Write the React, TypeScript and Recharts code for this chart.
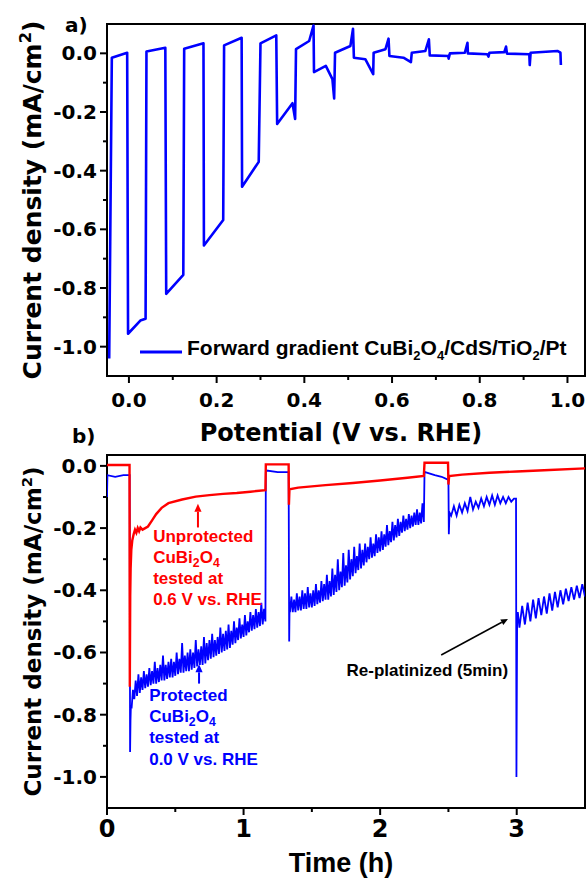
import React from "react"
import {
  Label,
  Legend,
  Line,
  LineChart,
  ReferenceArea,
  ReferenceDot,
  ReferenceLine,
  XAxis,
  YAxis,
} from "recharts"

// ---------- a) chopped forward scan ----------
const scanPotential = [
  -0.045, -0.039, -0.004, -0.002, 0.026, 0.038, 0.04, 0.083, 0.085, 0.124,
  0.126, 0.17, 0.171, 0.215, 0.217, 0.257, 0.258, 0.296, 0.3, 0.336,
  0.338, 0.373, 0.379, 0.381, 0.411, 0.421, 0.422, 0.449, 0.464, 0.468,
  0.47, 0.505, 0.511, 0.513, 0.539, 0.557, 0.558, 0.585, 0.592, 0.594,
  0.626, 0.643, 0.645, 0.676, 0.684, 0.686, 0.728, 0.729, 0.732, 0.766,
  0.772, 0.773, 0.817, 0.82, 0.822, 0.856, 0.86, 0.862, 0.913, 0.914,
  0.916, 0.977, 0.984, 0.985,
]
const scanCurrent = [
  -1.04, -0.015, 0.002, -0.956, -0.911, -0.905, 0.006, 0.019, -0.82, -0.755,
  0.016, 0.034, -0.655, -0.568, 0.027, 0.053, -0.455, -0.37, 0.034, 0.061,
  -0.241, -0.17, -0.224, 0.014, 0.042, 0.095, -0.064, -0.043, -0.088, -0.154,
  0.002, 0.025, 0.084, -0.015, -0.02, -0.071, 0.002, 0.014, 0.05, -0.009,
  -0.015, -0.03, 0.002, 0.008, 0.048, -0.007, -0.009, -0.018, 0.0, 0.002,
  0.036, 0.0, -0.003, -0.011, 0.002, 0.004, 0.023, -0.001, -0.003, -0.04,
  0.002, 0.008, 0.002, -0.04,
]

const potentialTicks = [0, 0.1, 0.2, 0.3, 0.4, 0.5, 0.6, 0.7, 0.8, 0.9, 1.0]
const potentialMajor = [0, 0.2, 0.4, 0.6, 0.8, 1.0]
const currentTicks = [0, -0.1, -0.2, -0.3, -0.4, -0.5, -0.6, -0.7, -0.8, -0.9, -1.0]
const currentMajor = [0, -0.2, -0.4, -0.6, -0.8, -1.0]

// ---------- b) stability test ----------
const timeTicks = [0, 0.5, 1, 1.5, 2, 2.5, 3]
const timeMajor = [0, 1, 2, 3]

// unprotected electrode, 0.6 V vs RHE
const redTime = [
  0, 0.165, 0.167, 0.17, 0.173, 0.178, 0.185, 0.195, 0.205, 0.215,
  0.225, 0.235, 0.245, 0.26, 0.28, 0.3, 0.33, 0.36, 0.4, 0.45,
  0.55, 0.65, 0.75, 0.85, 0.95, 1.05, 1.16, 1.163, 1.33, 1.332,
  1.336, 1.4, 1.6, 1.8, 2.0, 2.2, 2.32, 2.325, 2.497, 2.5,
  2.505, 2.6, 2.8, 3.0, 3.2, 3.5,
]
const redCurrent = [
  0.003, 0.003, -0.71, -0.42, -0.33, -0.27, -0.24, -0.22, -0.205, -0.215,
  -0.2, -0.21, -0.198, -0.205, -0.2, -0.195, -0.175, -0.155, -0.135, -0.12,
  -0.108, -0.099, -0.094, -0.09, -0.087, -0.083, -0.078, 0.005, 0.005, -0.125,
  -0.075, -0.07, -0.062, -0.055, -0.047, -0.038, -0.032, 0.01, 0.01, -0.06,
  -0.033, -0.028, -0.022, -0.018, -0.014, -0.008,
]

// protected electrode, 0.0 V vs RHE (dark periods / transients)
const blueStartTime = [0, 0.003, 0.06, 0.12, 0.166, 0.169, 0.172, 0.175]
const blueStartCurrent = [-0.1, -0.03, -0.035, -0.03, -0.03, -0.92, -0.82, -0.77]
const blueBreak1Time = [1.163, 1.17, 1.25, 1.33, 1.334, 1.337]
const blueBreak1Current = [-0.02, -0.015, -0.02, -0.02, -0.565, -0.44]
const blueBreak2Time = [2.325, 2.33, 2.4, 2.45, 2.5, 2.503, 2.508]
const blueBreak2Current = [-0.018, -0.02, -0.03, -0.035, -0.045, -0.22, -0.15]
const replatTime = [2.995, 2.998, 3.003, 3.008]
const replatCurrent = [-0.105, -1.0, -0.5, -0.47]

// illuminated runs 1 and 2, read every 0.01 h (noise band edges)
const run1Current = [
  -0.78, -0.72, -0.75, -0.69, -0.74, -0.67, -0.73, -0.68, -0.72, -0.66,
  -0.715, -0.67, -0.71, -0.65, -0.705, -0.66, -0.7, -0.63, -0.7, -0.65,
  -0.695, -0.64, -0.69, -0.61, -0.69, -0.64, -0.685, -0.63, -0.68, -0.62,
  -0.68, -0.63, -0.675, -0.6, -0.67, -0.62, -0.665, -0.57, -0.665, -0.61,
  -0.66, -0.6, -0.66, -0.59, -0.655, -0.6, -0.65, -0.56, -0.645, -0.59,
  -0.64, -0.58, -0.64, -0.55, -0.635, -0.57, -0.625, -0.56, -0.62, -0.54,
  -0.615, -0.56, -0.61, -0.55, -0.605, -0.52, -0.6, -0.54, -0.595, -0.53,
  -0.59, -0.51, -0.585, -0.53, -0.575, -0.5, -0.57, -0.52, -0.56, -0.49,
  -0.555, -0.51, -0.55, -0.48, -0.545, -0.5, -0.535, -0.47, -0.53, -0.48,
  -0.525, -0.46, -0.52, -0.47, -0.515, -0.44, -0.51, -0.46, -0.5,
]
const run2Current = [
  -0.47, -0.42, -0.47, -0.43, -0.47, -0.41, -0.465, -0.42, -0.465, -0.4,
  -0.46, -0.41, -0.46, -0.39, -0.455, -0.41, -0.455, -0.4, -0.45, -0.38,
  -0.445, -0.4, -0.44, -0.37, -0.435, -0.38, -0.43, -0.35, -0.43, -0.37,
  -0.42, -0.33, -0.415, -0.35, -0.405, -0.3, -0.4, -0.34, -0.39, -0.28,
  -0.385, -0.32, -0.375, -0.27, -0.365, -0.3, -0.355, -0.26, -0.345, -0.29,
  -0.335, -0.25, -0.33, -0.27, -0.32, -0.25, -0.31, -0.26, -0.3, -0.23,
  -0.295, -0.25, -0.29, -0.22, -0.28, -0.23, -0.275, -0.21, -0.27, -0.22,
  -0.26, -0.19, -0.255, -0.21, -0.245, -0.18, -0.24, -0.19, -0.23, -0.17,
  -0.225, -0.18, -0.215, -0.16, -0.21, -0.17, -0.205, -0.155, -0.2, -0.16,
  -0.195, -0.15, -0.19, -0.14, -0.19, -0.15, -0.185, -0.12, -0.18,
]
// runs 3 and 4, read every 0.02 h (regular comb)
const run3Current = [
  -0.16, -0.13, -0.16, -0.125, -0.15, -0.12, -0.145, -0.1, -0.14, -0.115,
  -0.135, -0.105, -0.13, -0.1, -0.125, -0.095, -0.125, -0.095, -0.12, -0.1,
  -0.12, -0.1, -0.115, -0.105,
]
const run4Current = [
  -0.52, -0.45, -0.51, -0.44, -0.5, -0.43, -0.49, -0.425, -0.48, -0.42,
  -0.475, -0.41, -0.465, -0.405, -0.455, -0.4, -0.445, -0.395, -0.435, -0.39,
  -0.43, -0.385, -0.425, -0.38, -0.42,
]

const unprotectedNote = ["Unprotected", "CuBi_2O_4", "tested at", "0.6 V vs. RHE"]
const protectedNote = ["Protected", "CuBi_2O_4", "tested at", "0.0 V vs. RHE"]
const replatNote = ["Re-platinized (5min)"]

const BLUE = "#0000ff"
const RED = "#ff0000"
const DEJAVU = "'DejaVu Sans', sans-serif"
const ARIAL = "'Liberation Sans', Arial, sans-serif"

type Pt = { x: number; y: number }
const pairs = (xs: number[], ys: number[]): Pt[] => xs.map((x, i) => ({ x, y: ys[i] }))
const sampled = (start: number, step: number, ys: number[]): Pt[] =>
  ys.map((y, i) => ({ x: +(start + i * step).toFixed(4), y }))

const scanData = pairs(scanPotential, scanCurrent)
const redData = pairs(redTime, redCurrent)
const blueData = [
  ...pairs(blueStartTime, blueStartCurrent),
  ...sampled(0.18, 0.01, run1Current),
  ...pairs(blueBreak1Time, blueBreak1Current),
  ...sampled(1.34, 0.01, run2Current),
  ...pairs(blueBreak2Time, blueBreak2Current),
  ...sampled(2.52, 0.02, run3Current),
  ...pairs(replatTime, replatCurrent),
  ...sampled(3.02, 0.02, run4Current),
]

const isMajor = (majors: number[], v: number) => majors.some((m) => Math.abs(m - v) < 1e-6)

const bottomTick =
  (majors: number[], fmt: (v: number) => string, size: number, dy: number) => (p: any) => {
    const { x, y, payload } = p
    const v = payload.value as number
    const major = isMajor(majors, v)
    return (
      <g>
        <line x1={x} x2={x} y1={y} y2={y + (major ? 7 : 4)} stroke="#000" strokeWidth={2} />
        {major && (
          <text x={x} y={y + dy} textAnchor="middle" fontFamily={DEJAVU} fontWeight={700} fontSize={size} fill="#000">
            {fmt(v)}
          </text>
        )}
      </g>
    )
  }

const leftTick = (majors: number[]) => (p: any) => {
  const { x, y, payload } = p
  const v = payload.value as number
  const major = isMajor(majors, v)
  return (
    <g>
      <line x1={x} x2={x - (major ? 7 : 4)} y1={y} y2={y} stroke="#000" strokeWidth={2} />
      {major && (
        <text x={x - 10} y={y + 7} textAnchor="end" fontFamily={DEJAVU} fontWeight={700} fontSize={20} fill="#000">
          {v.toFixed(1)}
        </text>
      )}
    </g>
  )
}

const xTitle = (text: string, font: string, size: number, dy: number) => (p: any) => {
  const vb = p.viewBox
  return (
    <text x={vb.x + vb.width / 2 - 5} y={vb.y + dy} textAnchor="middle" fontFamily={font} fontWeight={700} fontSize={size} fill="#000">
      {text}
    </text>
  )
}

const yTitle = (size: number, baseX: number) => (p: any) => {
  const vb = p.viewBox
  const cy = vb.y + vb.height / 2
  return (
    <text x={baseX} y={cy} transform={`rotate(-90 ${baseX} ${cy})`} textAnchor="middle" fontFamily={DEJAVU} fontWeight={700} fontSize={size} fill="#000">
      Current density (mA/cm
      <tspan dy={-size * 0.4} fontSize={size * 0.65}>2</tspan>
      <tspan dy={size * 0.4}>)</tspan>
    </text>
  )
}

function richLine(s: string, subSize: number) {
  const parts = s.split(/_(\d)/)
  const out: React.ReactNode[] = []
  let shifted = false
  parts.forEach((part, i) => {
    if (!part) return
    if (i % 2 === 1) {
      out.push(<tspan key={i} dy={4} fontSize={subSize}>{part}</tspan>)
      shifted = true
    } else {
      out.push(<tspan key={i} dy={shifted ? -4 : 0}>{part}</tspan>)
      shifted = false
    }
  })
  return out
}

const noteContent = (lines: string[], color: string, size: number, gap: number) => (p: any) => {
  const vb = p.viewBox
  return (
    <g>
      {lines.map((l, i) => (
        <text key={i} x={vb.x} y={vb.y + i * gap} fill={color} fontFamily={ARIAL} fontWeight={700} fontSize={size}>
          {richLine(l, size * 0.72)}
        </text>
      ))}
    </g>
  )
}

const arrowShape = (color: string, width: number, head: number) => (p: any) => {
  const { x1, y1, x2, y2 } = p
  const a = Math.atan2(y2 - y1, x2 - x1)
  const bx = x2 - head * Math.cos(a)
  const by = y2 - head * Math.sin(a)
  const nx = -Math.sin(a) * head * 0.45
  const ny = Math.cos(a) * head * 0.45
  return (
    <g>
      <line x1={x1} y1={y1} x2={bx} y2={by} stroke={color} strokeWidth={width} />
      <polygon points={`${x2},${y2} ${bx + nx},${by + ny} ${bx - nx},${by - ny}`} fill={color} />
    </g>
  )
}

const Sub = ({ children }: { children: React.ReactNode }) => (
  <span style={{ fontSize: 13, position: "relative", top: 5 }}>{children}</span>
)

function ScanLegend() {
  return (
    <div style={{ display: "flex", alignItems: "center", fontFamily: ARIAL, fontWeight: 700, fontSize: 21, whiteSpace: "nowrap", lineHeight: "24px", height: 24 }}>
      <svg width={42} height={6}>
        <line x1={0} y1={3} x2={42} y2={3} stroke={BLUE} strokeWidth={3} />
      </svg>
      <span style={{ marginLeft: 5, position: "relative", top: -3 }}>
        Forward gradient CuBi<Sub>2</Sub>O<Sub>4</Sub>/CdS/TiO<Sub>2</Sub>/Pt
      </span>
    </div>
  )
}

function PanelA() {
  return (
    <LineChart width={586} height={450} data={scanData} margin={{ top: 24, right: 1, bottom: 0, left: 0 }}>
      <ReferenceArea x1={-0.05} x2={1.04} y1={-1.1} y2={0.1} fill="none" stroke="#000" strokeWidth={2} ifOverflow="visible" />
      <XAxis
        dataKey="x"
        type="number"
        domain={[-0.05, 1.04]}
        allowDataOverflow
        ticks={potentialTicks}
        interval={0}
        tickSize={0}
        tickMargin={0}
        tickLine={false}
        axisLine={false}
        height={74}
        tick={bottomTick(potentialMajor, (v) => v.toFixed(1), 20, 31)}
      >
        <Label content={xTitle("Potential (V vs. RHE)", DEJAVU, 24, 65)} />
      </XAxis>
      <YAxis
        type="number"
        domain={[-1.1, 0.1]}
        allowDataOverflow
        ticks={currentTicks}
        interval={0}
        width={107}
        tickSize={0}
        tickMargin={0}
        tickLine={false}
        axisLine={false}
        tick={leftTick(currentMajor)}
      >
        <Label content={yTitle(25, 41)} />
      </YAxis>
      <Legend
        layout="horizontal"
        verticalAlign="middle"
        align="center"
        wrapperStyle={{ left: 140, top: 340, width: "auto" }}
        content={() => <ScanLegend />}
      />
      <Line type="linear" dataKey="y" stroke={BLUE} strokeWidth={2.6} dot={false} isAnimationActive={false} strokeLinejoin="round" />
    </LineChart>
  )
}

function PanelB() {
  return (
    <LineChart width={586} height={428} margin={{ top: 5, right: 1, bottom: 0, left: 0 }}>
      <ReferenceArea x1={0} x2={3.5} y1={-1.1} y2={0.035} fill="none" stroke="#000" strokeWidth={2} ifOverflow="visible" />
      <XAxis
        dataKey="x"
        type="number"
        domain={[0, 3.5]}
        allowDataOverflow
        ticks={timeTicks}
        interval={0}
        tickSize={0}
        tickMargin={0}
        tickLine={false}
        axisLine={false}
        height={70}
        tick={bottomTick(timeMajor, (v) => String(v), 24, 29)}
      >
        <Label content={xTitle("Time (h)", ARIAL, 27, 64)} />
      </XAxis>
      <YAxis
        type="number"
        domain={[-1.1, 0.035]}
        allowDataOverflow
        ticks={currentTicks}
        interval={0}
        width={107}
        tickSize={0}
        tickMargin={0}
        tickLine={false}
        axisLine={false}
        tick={leftTick(currentMajor)}
      >
        <Label content={yTitle(23, 41)} />
      </YAxis>
      <Line data={blueData} type="linear" dataKey="y" stroke={BLUE} strokeWidth={1.8} dot={false} isAnimationActive={false} />
      <Line data={redData} type="linear" dataKey="y" stroke={RED} strokeWidth={2.4} dot={false} isAnimationActive={false} />
      <ReferenceLine segment={[{ x: 0.666, y: -0.198 }, { x: 0.666, y: -0.122 }]} shape={arrowShape(RED, 2, 8)} />
      <ReferenceLine segment={[{ x: 0.674, y: -0.7 }, { x: 0.674, y: -0.638 }]} shape={arrowShape(BLUE, 2, 8)} />
      <ReferenceLine segment={[{ x: 2.447, y: -0.608 }, { x: 2.936, y: -0.492 }]} shape={arrowShape("#000", 1.5, 7)} />
      <ReferenceDot x={0.338} y={-0.2434} r={0} fill="none" stroke="none" label={{ content: noteContent(unprotectedNote, RED, 17, 21.3) }} />
      <ReferenceDot x={0.309} y={-0.7547} r={0} fill="none" stroke="none" label={{ content: noteContent(protectedNote, BLUE, 17, 21.3) }} />
      <ReferenceDot x={1.754} y={-0.675} r={0} fill="none" stroke="none" label={{ content: noteContent(replatNote, "#000", 17, 21.3) }} />
    </LineChart>
  )
}

export default function App() {
  return (
    <div style={{ position: "absolute", left: 0, top: 0, width: 586, height: 878, background: "#fff", overflow: "hidden" }}>
      <div style={{ position: "absolute", left: 0, top: 0 }}>
        <PanelA />
      </div>
      <div style={{ position: "absolute", left: 0, top: 450 }}>
        <PanelB />
      </div>
      <svg width={586} height={878} style={{ position: "absolute", left: 0, top: 0, pointerEvents: "none" }}>
        <text x={65} y={32} fontFamily={DEJAVU} fontWeight={700} fontSize={20} fill="#000">a)</text>
        <text x={72} y={443} fontFamily={DEJAVU} fontWeight={700} fontSize={20} fill="#000">b)</text>
      </svg>
    </div>
  )
}
